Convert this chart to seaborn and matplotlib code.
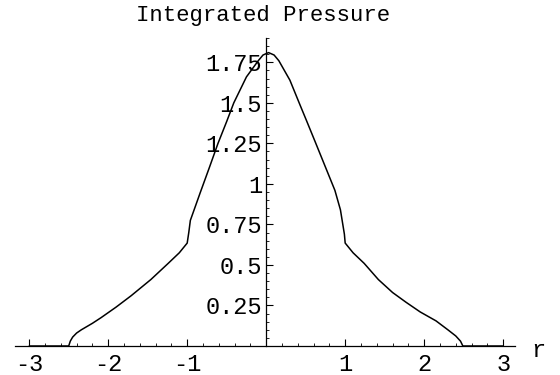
import matplotlib
matplotlib.use("Agg")
import matplotlib.pyplot as plt
from matplotlib.ticker import MultipleLocator, FixedLocator
import seaborn as sns
import pandas as pd

# data
r_vals = [-3.0, -2.50, -2.48, -2.45, -2.40, -2.34, -2.20, -2.09, -1.90, -1.71, -1.46,
          -1.24, -1.10, -1.00, -0.98, -0.96, -0.90, -0.835, -0.72, -0.61, -0.50,
          -0.41, -0.25, -0.10, -0.04, 0.03, 0.10, 0.16, 0.30, 0.43, 0.515, 0.62,
          0.77, 0.87, 0.94, 0.99, 1.00, 1.10, 1.24, 1.42, 1.60, 1.77, 1.95, 2.15,
          2.30, 2.40, 2.46, 2.49, 3.0]
pressure = [0.0, 0.0, 0.03, 0.055, 0.08, 0.10, 0.14, 0.175, 0.24, 0.31, 0.41,
            0.51, 0.575, 0.635, 0.70, 0.775, 0.857, 0.946, 1.10, 1.25, 1.385,
            1.50, 1.66, 1.76, 1.795, 1.81, 1.795, 1.76, 1.64, 1.485, 1.385, 1.26,
            1.08, 0.96, 0.84, 0.69, 0.635, 0.575, 0.51, 0.41, 0.33, 0.27, 0.21, 0.155,
            0.10, 0.062, 0.03, 0.0, 0.0]
x_ticks = [-3, -2, -1, 1, 2, 3]
y_ticks = [0.25, 0.5, 0.75, 1.0, 1.25, 1.5, 1.75]
y_tick_labels = ["0.25", "0.5", "0.75", "1", "1.25", "1.5", "1.75"]
title = "Integrated Pressure"
x_label = "r"

df = pd.DataFrame({"r": r_vals, "p": pressure})

sns.set_theme(style="white")
plt.rcParams["font.family"] = ["Liberation Mono", "DejaVu Sans Mono"]
plt.rcParams["axes.unicode_minus"] = False

fig = plt.figure(figsize=(5.6, 3.75), dpi=100)
ax = fig.add_axes([15 / 560, 29 / 375, 500 / 560, 308 / 375])

sns.lineplot(data=df, x="r", y="p", ax=ax, color="black", linewidth=1.1,
             estimator=None, sort=False)

ax.set_xlim(-3.18, 3.15)
ax.set_ylim(0, 1.9)

for side in ["top", "right"]:
    ax.spines[side].set_visible(False)
ax.spines["left"].set_position(("data", 0))
ax.spines["bottom"].set_position(("data", 0))
for side in ["left", "bottom"]:
    ax.spines[side].set_color("black")
    ax.spines[side].set_linewidth(0.9)

ax.xaxis.set_major_locator(FixedLocator(x_ticks))
ax.xaxis.set_minor_locator(MultipleLocator(0.2))
ax.set_xticklabels([str(t) for t in x_ticks])
ax.yaxis.set_major_locator(FixedLocator(y_ticks))
ax.yaxis.set_minor_locator(MultipleLocator(0.05))
ax.set_yticklabels(y_tick_labels)

ax.tick_params(axis="x", which="major", direction="in", length=5, width=0.8,
               color="black", labelsize=17, pad=5, bottom=True)
ax.tick_params(axis="x", which="minor", direction="in", length=2.5, width=0.6,
               color="black", bottom=True)
ax.tick_params(axis="y", which="major", direction="in", length=5, width=0.8,
               color="black", labelsize=17, pad=3, left=True)
ax.tick_params(axis="y", which="minor", direction="in", length=2.5, width=0.6,
               color="black", left=True)
for lbl in ax.get_xticklabels() + ax.get_yticklabels():
    lbl.set_color("black")

ax.set_xlabel("")
ax.set_ylabel("")
ax.text(3.44, -0.03, x_label, fontsize=17, color="black", ha="center",
        va="center", clip_on=False)
fig.text(263 / 560, 1 - 15 / 375, title, fontsize=16, color="black",
         ha="center", va="center")

fig.savefig("out.png", dpi=100)
